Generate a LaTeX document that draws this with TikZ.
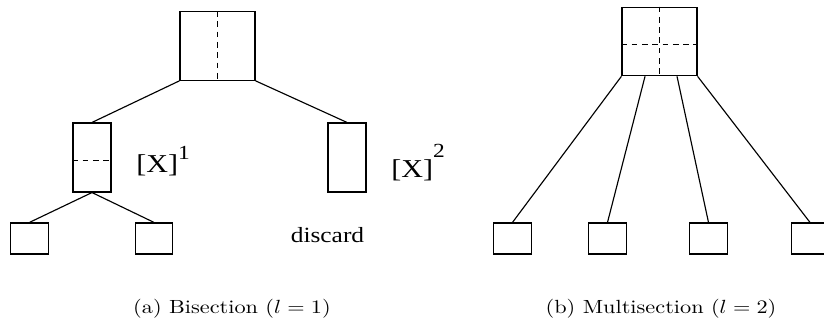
\documentclass[tikz,border=0pt]{standalone}
\usepackage{amsmath,amssymb}
\usepackage{graphicx}
\usepackage{fontspec}
\usepackage{tikz}
\usetikzlibrary{positioning,calc}
\newfontfamily\labelfont{Liberation Serif}
\newcommand{\widetext}[1]{\scalebox{1.17}[1]{#1}}

\begin{document}
\begin{tikzpicture}[x=0.525pt, y=-0.525pt,
    box/.style={rectangle, draw, line width=0.6pt, inner sep=0pt},
    bigbox/.style={box, minimum width=39.4pt, minimum height=36pt},
    tallbox/.style={box, minimum width=20pt, minimum height=36.2pt},
    leaf/.style={box, minimum width=19.6pt, minimum height=16.3pt},
    cut/.style={line width=0.6pt, dash pattern=on 3pt off 2.4pt},
    edge/.style={line width=0.6pt},
    lab/.style={inner sep=0pt, font=\labelfont\fontsize{13.5}{15}\selectfont},
    note/.style={inner sep=0pt, font=\labelfont\fontsize{11.4}{13}\selectfont}]

    \useasboundingbox (0,0) rectangle (824,324);

    % (a) bisection
    \node[bigbox] (rootA) at (217.5,46) {};
    \node[tallbox] (midL) at (92,157.5) {};
    \node[tallbox] (midR) at (347,157.5) {};
    \node[leaf] (leafL) at (29.5,238.5) {};
    \node[leaf] (leafR) at (154,238.5) {};

    \draw[cut] (rootA.north) -- (rootA.south);
    \draw[cut] ([yshift=-1.8pt]midL.west) -- ([yshift=-1.8pt]midL.east);

    \draw[edge] (rootA.south west) -- (midL.north);
    \draw[edge] (rootA.south east) -- (midR.north);
    \draw[edge] (midL.south) -- (leafL.north);
    \draw[edge] (midL.south) -- (leafR.north);

    \node[lab, anchor=base west] (sub1) at (136,173)
        {\widetext{[X]\raisebox{7pt}{\fontsize{10.5}{12}\selectfont 1}}};
    \node[lab, anchor=base west] (sub2) at (391,178)
        {\widetext{[X]\raisebox{10.5pt}{\fontsize{10.5}{12}\selectfont 2}}};
    \node[note, anchor=base] (disc) at (327.5,243) {\widetext{discard}};

    \node[anchor=base] (capA) at (232,314) {\widetext{(a) Bisection ($l=1$)}};

    % (b) multisection
    \node[bigbox] (rootB) at (659.5,41.5) {};
    \draw[cut] (rootB.north) -- (rootB.south);
    \draw[cut] ([yshift=-1.8pt]rootB.west) -- ([yshift=-1.8pt]rootB.east);

    \foreach \i/\x in {1/512.5, 2/607.5, 3/708.5, 4/810} {
        \node[leaf] (kid\i) at (\x,238.5) {};
    }
    \draw[edge] (rootB.south west) -- (kid1.north);
    \draw[edge] ($(rootB.south west)!0.31!(rootB.south east)$) -- (kid2.north);
    \draw[edge] ($(rootB.south west)!0.73!(rootB.south east)$) -- (kid3.north);
    \draw[edge] (rootB.south east) -- (kid4.north);

    \node[anchor=base] (capB) at (661,314) {\widetext{(b) Multisection ($l=2$)}};
\end{tikzpicture}
\end{document}
